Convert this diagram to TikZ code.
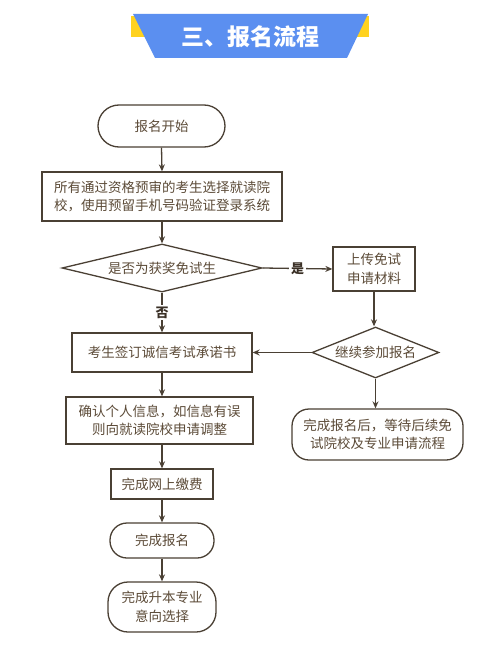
\documentclass[tikz,border=0pt]{standalone}
\usepackage{fontspec}
\setmainfont{Noto Sans CJK SC}
\usetikzlibrary{shapes.geometric,arrows.meta}
\definecolor{linec}{HTML}{4A4034}
\definecolor{txtc}{HTML}{5C4B38}
\definecolor{lblc}{HTML}{3A3026}
\definecolor{bannerblue}{HTML}{5B8FF0}
\definecolor{banneryellow}{HTML}{FFD21F}
\begin{document}
\begin{tikzpicture}[x=1pt,y=-1pt,
  every node/.style={font=\fontsize{13.5}{18.5}\selectfont, text=txtc},
  box/.style={draw=linec, line width=1.3pt, rectangle, inner sep=0pt, align=center},
  stadium/.style={box, rounded corners=#1},
  decision/.style={draw=linec, line width=1.3pt, diamond, inner sep=0pt, align=center},
  arr/.style={draw=linec, line width=1.3pt, -{Stealth[length=7pt,width=6pt]}},
  lbl/.style={font=\fontsize{13}{15}\bfseries, text=lblc, fill=white, inner sep=2pt}
]
\useasboundingbox (0,0) rectangle (500,663);
\fill[white] (0,0) rectangle (500,663);
% banner
\fill[banneryellow] (131,16) rectangle (369,37);
\fill[bannerblue] (133,14) -- (368,14) -- (347,58) -- (155,58) -- cycle;
\node[font=\fontsize{23}{26}\bfseries, text=white] (title) at (250,37) {三、报名流程};
% nodes
\node[stadium=21, minimum width=127pt, minimum height=42pt] (start) at (161.5,126) {报名开始};
\node[box, minimum width=240pt, minimum height=49pt] (reg) at (162,196.5) {所有通过资格预审的考生选择就读院\\校，使用预留手机号码验证登录系统};
\node[decision, aspect=4.2, minimum width=200pt, minimum height=48pt] (q1) at (162,268) {是否为获奖免试生};
\node[box, minimum width=82pt, minimum height=44pt] (upl) at (374,269) {上传免试\\申请材料};
\node[box, minimum width=180pt, minimum height=39pt] (sign) at (162,352.5) {考生签订诚信考试承诺书};
\node[decision, aspect=2.5, minimum width=127pt, minimum height=51pt] (q2) at (375.5,352.5) {继续参加报名};
\node[stadium=17, minimum width=171pt, minimum height=51pt] (wait) at (377.5,434.5) {完成报名后，等待后续免\\试院校及专业申请流程};
\node[box, minimum width=187pt, minimum height=47pt] (conf) at (159.5,420.5) {确认个人信息，如信息有误\\则向就读院校申请调整};
\node[box, minimum width=102pt, minimum height=30pt] (pay) at (162,484) {完成网上缴费};
\node[stadium=17, minimum width=104pt, minimum height=35pt] (done) at (162,540.5) {完成报名};
\node[stadium=20, minimum width=108pt, minimum height=50pt] (major) at (162,607) {完成升本专业\\意向选择};
% connectors
\draw[arr] (start.south) -- (reg.north);
\draw[arr] (reg.south) -- (q1.north);
\draw[arr] (q1.east) -- node[lbl] (yes) {是} (upl.west);
\draw[arr] (q1.south) -- node[lbl] (no) {否} (sign.north);
\draw[arr] (upl.south) -- (upl.south |- q2.north);
\draw[arr] (q2.west) -- (sign.east);
\draw[arr] (q2.south) -- (q2.south |- wait.north);
\draw[arr] (sign.south) -- (sign.south |- conf.north);
\draw[arr] (conf.south -| pay.north) -- (pay.north);
\draw[arr] (pay.south) -- (done.north);
\draw[arr] (done.south) -- (major.north);
\end{tikzpicture}
\end{document}
